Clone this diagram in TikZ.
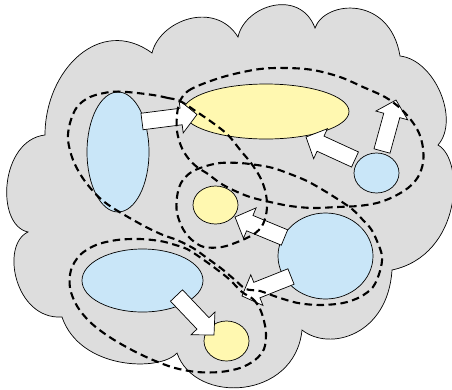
\documentclass[tikz,border=0pt]{standalone}
\usetikzlibrary{shapes.geometric,calc}
\definecolor{cloudgray}{HTML}{DDDDDD}
\definecolor{nodeblue}{HTML}{C9E6F8}
\definecolor{nodeyellow}{HTML}{FFF8B0}
\tikzset{
  blob/.style={ellipse, draw=black, line width=0.7pt, inner sep=0pt},
  bluenode/.style={blob, fill=nodeblue},
  yellownode/.style={blob, fill=nodeyellow},
  fatarrow/.style={draw=black, fill=white, line width=0.7pt, line join=miter},
  hyper/.style={draw=black, line width=2.1pt, dash pattern=on 7.5pt off 4.5pt},
}
% block arrow from tail #1 to tip #2
\newcommand{\blockarrow}[2]{%
  \path ($(#2)!16pt!(#1)$) coordinate (hb);
  \draw[fatarrow] ($(#1)!8.3pt!90:(#2)$) -- ($(hb)!8.3pt!90:(#2)$)
    -- ($(hb)!16.5pt!90:(#2)$) -- (#2) -- ($(hb)!16.5pt!-90:(#2)$)
    -- ($(hb)!8.3pt!-90:(#2)$) -- ($(#1)!8.3pt!-90:(#2)$) -- cycle;}
\begin{document}
\begin{tikzpicture}[x=1pt,y=-1pt]
\useasboundingbox (0,0) rectangle (452,389);
% cloud
\draw[fill=cloudgray, line width=0.7pt] (45,135)
 .. controls (45,70) and (100,15) .. (152,53)
 .. controls (160,20) and (215,0) .. (238,37)
 .. controls (245,5) and (300,-12) .. (315,28)
 .. controls (325,0) and (390,-5) .. (400,56)
 .. controls (435,60) and (460,120) .. (438,145)
 .. controls (465,160) and (462,255) .. (392,270)
 .. controls (388,335) and (330,352) .. (302,330)
 .. controls (295,400) and (195,405) .. (177,353)
 .. controls (160,372) and (80,370) .. (62,317)
 .. controls (15,320) and (0,245) .. (28,232)
 .. controls (-5,225) and (0,140) .. (45,135) -- cycle;
% nodes
\node[bluenode, minimum width=62pt, minimum height=120pt] (tall) at (118,152) {};
\node[yellownode, minimum width=166pt, minimum height=55pt] (wide) at (266,111.5) {};
\node[bluenode, minimum width=45pt, minimum height=40pt] (rsmall) at (376.5,173) {};
\node[yellownode, minimum width=45pt, minimum height=38pt] (mid) at (215.5,205) {};
\node[bluenode, minimum width=95pt, minimum height=86pt] (big) at (325.5,256) {};
\node[bluenode, minimum width=121pt, minimum height=63pt] (low) at (142.5,280.5) {};
\node[yellownode, minimum width=45pt, minimum height=40pt] (lowy) at (226.5,341) {};
% arrow ends
\coordinate (a1t) at (142,121.5); \coordinate (a1h) at (197,114.5);
\coordinate (a2t) at (355,159.5); \coordinate (a2h) at (306,137);
\coordinate (a3t) at (382,151);   \coordinate (a3h) at (396,100);
\coordinate (a4t) at (284.5,237.5); \coordinate (a4h) at (235,217);
\coordinate (a5t) at (291,276.5); \coordinate (a5h) at (242,296);
\coordinate (a6t) at (176.5,295.5); \coordinate (a6h) at (214,335);
\blockarrow{a1t}{a1h}
\blockarrow{a2t}{a2h}
\blockarrow{a3t}{a3h}
\blockarrow{a4t}{a4h}
\blockarrow{a5t}{a5h}
\blockarrow{a6t}{a6h}
% hyperedges
\draw[hyper] plot[smooth cycle, tension=0.55] coordinates {
 (180,101) (168,98) (153,95) (127,92) (110,92) (90,97) (77,107) (70,123) (68,140)
 (73,160) (82,177) (92,190) (102,200) (113,208) (128,217) (146,227) (163,235)
 (177,240) (193,248) (207,258) (222,269) (235,280) (246,289) (260,291) (277,297)
 (298,303) (320,305) (343,303) (360,297) (373,287) (380,271) (382,256) (377,241)
 (371,229) (362,219) (352,209) (339,200) (323,190) (307,181) (290,174) (273,168)
 (257,165) (240,163) (220,163) (203,167) (190,173) (181,183) (177,197) (177,213)
 (183,229) (192,240) (204,247) (222,247) (240,241) (254,234) (262,226) (266,215)
 (267,203) (265,190) (260,177) (251,163) (241,151) (228,135) (213,123) (197,112)};
\draw[hyper] plot[smooth cycle, tension=0.55] coordinates {
 (180,101) (188,91) (205,83) (230,75) (260,69) (287,68) (313,70) (340,77) (363,87)
 (385,97) (400,108) (411,120) (419,133) (423,148) (423,163) (418,177) (408,188)
 (393,197) (377,203) (358,206) (337,207) (313,208) (290,206) (270,202) (250,197)
 (233,190) (220,183) (208,174) (197,167) (188,158) (181,146) (177,131) (177,115)};
\draw[hyper] plot[smooth cycle, tension=0.55] coordinates {
 (242,292) (253,299) (260,309) (264,321) (266,334) (264,349) (255,360) (240,368)
 (220,372) (197,372) (175,368) (153,360) (130,349) (108,336) (90,322) (77,306)
 (70,288) (71,270) (80,255) (96,245) (117,240) (140,239) (160,241) (172,244)
 (187,249) (201,258) (215,268) (229,279)};
\end{tikzpicture}
\end{document}
